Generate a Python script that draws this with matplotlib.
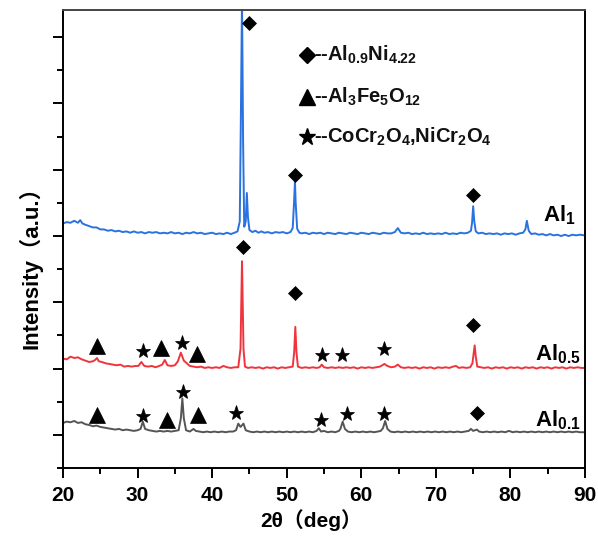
import numpy as np
import matplotlib.pyplot as plt
from matplotlib.ticker import MultipleLocator

plt.rcParams['mathtext.fontset'] = 'custom'
plt.rcParams['mathtext.rm'] = 'Liberation Sans:bold'
plt.rcParams['mathtext.bf'] = 'Liberation Sans:bold'

# XRD patterns (2theta, offset intensity)
al1 = [(20.0, 3.19), (20.5, 3.21), (21.0, 3.20), (21.5, 3.23), (22.0, 3.20), (22.3, 3.24), (22.6, 3.19),
       (23.0, 3.17), (23.5, 3.15), (24.0, 3.13), (24.5, 3.13), (25.0, 3.10), (25.5, 3.10), (26.0, 3.08),
       (26.5, 3.09), (27.0, 3.07), (27.5, 3.08), (28.0, 3.06), (28.5, 3.07), (29.0, 3.05), (29.5, 3.07),
       (30.0, 3.05), (30.5, 3.06), (31.0, 3.04), (31.5, 3.06), (32.0, 3.05), (32.5, 3.06), (33.0, 3.04),
       (33.5, 3.05), (34.0, 3.04), (34.5, 3.06), (35.0, 3.04), (35.5, 3.05), (36.0, 3.03), (36.5, 3.05),
       (37.0, 3.04), (37.5, 3.06), (38.0, 3.04), (38.5, 3.05), (39.0, 3.03), (39.5, 3.04), (40.0, 3.05),
       (40.5, 3.03), (41.0, 3.04), (41.5, 3.03), (42.0, 3.05), (42.5, 3.03), (43.0, 3.05), (43.4, 3.07),
       (43.7, 3.22), (43.85, 4.80), (44.0, 6.60), (44.15, 4.40), (44.3, 3.14), (44.5, 3.22), (44.65, 3.65),
       (44.8, 3.28), (45.0, 3.09), (45.4, 3.06), (45.8, 3.08), (46.2, 3.05), (46.6, 3.07), (47.0, 3.05),
       (47.5, 3.06), (48.0, 3.04), (48.5, 3.06), (49.0, 3.05), (49.5, 3.06), (50.0, 3.04), (50.5, 3.06),
       (50.8, 3.12), (51.0, 3.55), (51.1, 3.83), (51.2, 3.50), (51.4, 3.11), (51.7, 3.05), (52.0, 3.04),
       (52.5, 3.05), (53.0, 3.03), (53.5, 3.05), (54.0, 3.04), (54.5, 3.05), (55.0, 3.03), (55.5, 3.05),
       (56.0, 3.04), (56.5, 3.03), (57.0, 3.05), (57.5, 3.04), (58.0, 3.03), (58.5, 3.05), (59.0, 3.04),
       (59.5, 3.03), (60.0, 3.05), (60.5, 3.04), (61.0, 3.03), (61.5, 3.05), (62.0, 3.04), (62.5, 3.03),
       (63.0, 3.05), (63.5, 3.04), (64.0, 3.04), (64.5, 3.06), (64.9, 3.12), (65.3, 3.05), (65.8, 3.04),
       (66.3, 3.05), (66.8, 3.03), (67.3, 3.04), (67.8, 3.03), (68.3, 3.05), (68.8, 3.03), (69.3, 3.04),
       (69.8, 3.03), (70.3, 3.04), (70.8, 3.03), (71.3, 3.05), (71.8, 3.03), (72.3, 3.04), (72.8, 3.03),
       (73.3, 3.05), (73.8, 3.04), (74.3, 3.05), (74.7, 3.08), (74.85, 3.20), (75.0, 3.45), (75.15, 3.22),
       (75.35, 3.07), (75.7, 3.04), (76.2, 3.05), (76.7, 3.03), (77.2, 3.04), (77.7, 3.03), (78.2, 3.04),
       (78.7, 3.02), (79.2, 3.04), (79.7, 3.03), (80.2, 3.04), (80.7, 3.02), (81.2, 3.04), (81.7, 3.05),
       (82.0, 3.10), (82.2, 3.23), (82.45, 3.08), (82.8, 3.03), (83.3, 3.04), (83.8, 3.02), (84.3, 3.03),
       (84.8, 3.01), (85.3, 3.03), (85.8, 3.01), (86.3, 3.02), (86.8, 3.00), (87.3, 3.02), (87.8, 3.00),
       (88.3, 3.02), (88.8, 3.01), (89.3, 3.02), (90.0, 3.01)]

al05 = [(20.0, 1.15), (20.5, 1.14), (21.0, 1.18), (21.5, 1.16), (22.0, 1.17), (22.5, 1.14), (23.0, 1.12),
        (23.5, 1.10), (24.0, 1.11), (24.3, 1.13), (24.55, 1.16), (24.8, 1.11), (25.2, 1.10), (25.7, 1.08),
        (26.2, 1.07), (26.7, 1.06), (27.2, 1.05), (27.7, 1.06), (28.2, 1.03), (28.7, 1.04), (29.2, 1.03),
        (29.7, 1.04), (30.1, 1.04), (30.5, 1.10), (30.9, 1.04), (31.4, 1.03), (31.9, 1.04), (32.4, 1.02),
        (32.9, 1.04), (33.3, 1.06), (33.65, 1.13), (34.0, 1.05), (34.5, 1.04), (35.0, 1.05), (35.4, 1.11),
        (35.8, 1.24), (36.2, 1.12), (36.6, 1.08), (37.0, 1.04), (37.5, 1.03), (38.0, 1.02), (38.5, 1.03),
        (39.0, 1.01), (39.5, 1.02), (40.0, 1.01), (40.5, 1.02), (41.0, 1.01), (41.5, 1.04), (42.0, 1.02),
        (42.5, 1.01), (43.0, 1.02), (43.5, 1.02), (43.8, 1.30), (44.0, 2.62), (44.2, 1.30), (44.4, 1.03),
        (44.8, 1.01), (45.3, 1.02), (45.8, 1.01), (46.3, 1.02), (46.8, 1.00), (47.3, 1.02), (47.8, 1.01),
        (48.3, 1.02), (48.8, 1.00), (49.3, 1.02), (49.8, 1.01), (50.3, 1.02), (50.8, 1.03), (51.0, 1.25),
        (51.15, 1.63), (51.3, 1.25), (51.5, 1.03), (52.0, 1.01), (52.5, 1.02), (53.0, 1.01), (53.5, 1.02),
        (54.0, 1.01), (54.4, 1.02), (54.7, 1.06), (55.0, 1.02), (55.5, 1.01), (56.0, 1.02), (56.5, 1.01),
        (57.0, 1.02), (57.5, 1.01), (58.0, 1.02), (58.5, 1.01), (59.0, 1.02), (59.5, 1.00), (60.0, 1.02),
        (60.5, 1.01), (61.0, 1.02), (61.5, 1.01), (62.0, 1.02), (62.5, 1.03), (62.8, 1.05), (63.1, 1.07),
        (63.5, 1.04), (64.0, 1.02), (64.5, 1.03), (64.9, 1.06), (65.3, 1.02), (65.8, 1.01), (66.3, 1.02),
        (66.8, 1.01), (67.3, 1.02), (67.8, 1.00), (68.3, 1.02), (68.8, 1.01), (69.3, 1.02), (69.8, 1.00),
        (70.3, 1.02), (70.8, 1.01), (71.3, 1.02), (71.8, 1.01), (72.3, 1.03), (72.7, 1.04), (73.1, 1.01),
        (73.6, 1.02), (74.1, 1.01), (74.6, 1.02), (74.9, 1.08), (75.05, 1.22), (75.2, 1.35), (75.35, 1.18),
        (75.55, 1.03), (76.0, 1.02), (76.5, 1.01), (77.0, 1.02), (77.5, 1.00), (78.0, 1.02), (78.5, 1.01),
        (79.0, 1.02), (79.5, 1.00), (80.0, 1.02), (80.5, 1.01), (81.0, 1.02), (81.5, 1.00), (82.0, 1.02),
        (82.5, 1.01), (83.0, 1.02), (83.5, 1.00), (84.0, 1.02), (84.5, 1.01), (85.0, 1.02), (85.5, 1.00),
        (86.0, 1.02), (86.5, 1.01), (87.0, 1.02), (87.5, 1.00), (88.0, 1.02), (88.5, 1.01), (89.0, 1.02),
        (89.5, 1.01), (90.0, 1.01)]

al01 = [(20.0, 0.18), (20.5, 0.20), (21.0, 0.19), (21.5, 0.21), (22.0, 0.18), (22.5, 0.19), (23.0, 0.16),
        (23.5, 0.15), (24.0, 0.13), (24.5, 0.14), (25.0, 0.12), (25.5, 0.11), (26.0, 0.10), (26.5, 0.09),
        (27.0, 0.08), (27.5, 0.09), (28.0, 0.07), (28.5, 0.08), (29.0, 0.07), (29.5, 0.06), (30.0, 0.07),
        (30.4, 0.09), (30.7, 0.20), (31.0, 0.09), (31.5, 0.07), (32.0, 0.06), (32.5, 0.05), (33.0, 0.06),
        (33.5, 0.05), (34.0, 0.06), (34.5, 0.05), (35.0, 0.06), (35.5, 0.07), (35.8, 0.25), (36.0, 0.55),
        (36.2, 0.25), (36.5, 0.07), (37.0, 0.05), (37.5, 0.09), (37.8, 0.06), (38.3, 0.05), (38.8, 0.04),
        (39.3, 0.05), (39.8, 0.04), (40.3, 0.05), (40.8, 0.04), (41.3, 0.05), (41.8, 0.04), (42.3, 0.05),
        (42.8, 0.05), (43.2, 0.07), (43.5, 0.17), (43.8, 0.12), (44.2, 0.17), (44.5, 0.07), (45.0, 0.05),
        (45.5, 0.04), (46.0, 0.05), (46.5, 0.04), (47.0, 0.05), (47.5, 0.04), (48.0, 0.05), (48.5, 0.04),
        (49.0, 0.05), (49.5, 0.04), (50.0, 0.05), (50.5, 0.04), (51.0, 0.05), (51.5, 0.04), (52.0, 0.05),
        (52.5, 0.04), (53.0, 0.05), (53.5, 0.04), (54.0, 0.06), (54.3, 0.10), (54.6, 0.05), (55.0, 0.06),
        (55.5, 0.04), (56.0, 0.05), (56.5, 0.04), (57.0, 0.06), (57.2, 0.09), (57.5, 0.20), (57.8, 0.09),
        (58.2, 0.05), (58.7, 0.04), (59.2, 0.05), (59.7, 0.04), (60.2, 0.05), (60.7, 0.04), (61.2, 0.05),
        (61.7, 0.04), (62.2, 0.05), (62.6, 0.06), (62.9, 0.10), (63.2, 0.21), (63.5, 0.09), (63.9, 0.05),
        (64.4, 0.04), (64.9, 0.05), (65.4, 0.04), (65.9, 0.05), (66.4, 0.04), (66.9, 0.05), (67.4, 0.04),
        (67.9, 0.05), (68.4, 0.04), (68.9, 0.05), (69.4, 0.04), (69.9, 0.05), (70.4, 0.04), (70.9, 0.05),
        (71.4, 0.04), (71.9, 0.05), (72.4, 0.04), (72.9, 0.05), (73.4, 0.04), (73.9, 0.05), (74.4, 0.06),
        (74.7, 0.09), (75.0, 0.06), (75.5, 0.08), (75.8, 0.05), (76.3, 0.04), (76.8, 0.05), (77.3, 0.04),
        (77.8, 0.05), (78.3, 0.04), (78.8, 0.05), (79.3, 0.04), (79.8, 0.06), (80.3, 0.04), (80.8, 0.05),
        (81.3, 0.04), (81.8, 0.05), (82.3, 0.04), (82.8, 0.05), (83.3, 0.04), (83.8, 0.05), (84.3, 0.04),
        (84.8, 0.05), (85.3, 0.04), (85.8, 0.05), (86.3, 0.04), (86.8, 0.05), (87.3, 0.04), (87.8, 0.05),
        (88.3, 0.04), (88.8, 0.05), (89.3, 0.04), (90.0, 0.04)]

# phase markers
diamonds = [(44.94, 6.21), (51.1, 3.92), (75.0, 3.62), (44.1, 2.84), (51.1, 2.14), (75.0, 1.66), (75.5, 0.33)]
triangles = [(24.56, 1.34), (33.1, 1.31), (38.0, 1.22), (24.56, 0.30), (33.9, 0.23), (38.1, 0.30)]
stars = [(30.7, 1.27), (35.9, 1.39), (54.7, 1.21), (57.4, 1.21), (63.0, 1.30),
         (30.7, 0.29), (36.1, 0.65), (43.2, 0.33), (54.6, 0.22), (58.1, 0.32), (63.0, 0.32)]

phase_names = ['--Al$_{\\mathrm{0.9}}$Ni$_{\\mathrm{4.22}}$',
               '--Al$_{\\mathrm{3}}$Fe$_{\\mathrm{5}}$O$_{\\mathrm{12}}$',
               '--CoCr$_{\\mathrm{2}}$O$_{\\mathrm{4}}$,NiCr$_{\\mathrm{2}}$O$_{\\mathrm{4}}$']
sample_names = ['Al$_{\\mathbf{1}}$', 'Al$_{\\mathbf{0.5}}$', 'Al$_{\\mathbf{0.1}}$']

fig = plt.figure(figsize=(5.98, 5.42), dpi=100)
ax = fig.add_axes([0.1054, 0.1365, 0.8729, 0.845])

for data, col in [(al1, '#2a72e0'), (al05, '#f0343c'), (al01, '#555555')]:
    x, y = np.array(data).T
    ax.plot(x, y, color=col, lw=1.4, zorder=2)

for pts, m, ms in [(diamonds, 'D', 7.5), (triangles, '^', 11.5), (stars, '*', 11)]:
    x, y = np.array(pts).T
    ax.plot(x, y, m, color='black', ms=ms, mec='black', mew=0.5, ls='none', zorder=3)

# legend-like key
leg_y = [5.73, 5.10, 4.49]
for yy, m, ms, name in zip(leg_y, ['D', '^', '*'], [8.5, 11, 12.5], phase_names):
    ax.plot(52.7, yy, m, color='black', ms=ms, ls='none', clip_on=False)
    ax.text(53.6, yy, name, fontsize=14.5, family='Liberation Sans', fontweight='bold',
            color='#111111', va='center', ha='left')

lab_pos = [(88.7, 3.32), (89.4, 1.22), (89.4, 0.22)]
for (lx, ly), name in zip(lab_pos, sample_names):
    ax.text(lx, ly, name, fontsize=16, fontweight='bold', family='Liberation Sans', ha='right', va='center')

ax.set_xlim(20, 90)
ax.set_ylim(-0.5, 6.41)
ax.xaxis.set_major_locator(MultipleLocator(10))
ax.xaxis.set_minor_locator(MultipleLocator(5))
ax.yaxis.set_major_locator(MultipleLocator(1))
ax.yaxis.set_minor_locator(MultipleLocator(0.5))
ax.tick_params(which='both', direction='out', width=1.4, top=False, right=False)
ax.tick_params(which='major', length=7)
ax.tick_params(which='minor', length=4)
ax.tick_params(axis='y', labelleft=False)
ax.tick_params(axis='x', labelsize=15, pad=6)
for lbl in ax.get_xticklabels():
    lbl.set_family('Liberation Sans')
    lbl.set_fontweight('bold')
for sp in ax.spines.values():
    sp.set_linewidth(1.4)
ax.spines['top'].set_color('#444444')

ax.set_xlabel('2θ（deg）', fontsize=15, fontweight='bold',
              family=['Liberation Sans', 'Noto Sans CJK SC'])
ax.xaxis.set_label_coords(0.475, -0.09)
fig.text(30 / 598, 1 - 262 / 542, 'Intensity（a.u.）', fontsize=16, fontweight='bold', rotation=90,
         family=['Liberation Sans', 'Noto Sans CJK SC'], ha='center', va='center')

plt.savefig('out.png', dpi=100)
